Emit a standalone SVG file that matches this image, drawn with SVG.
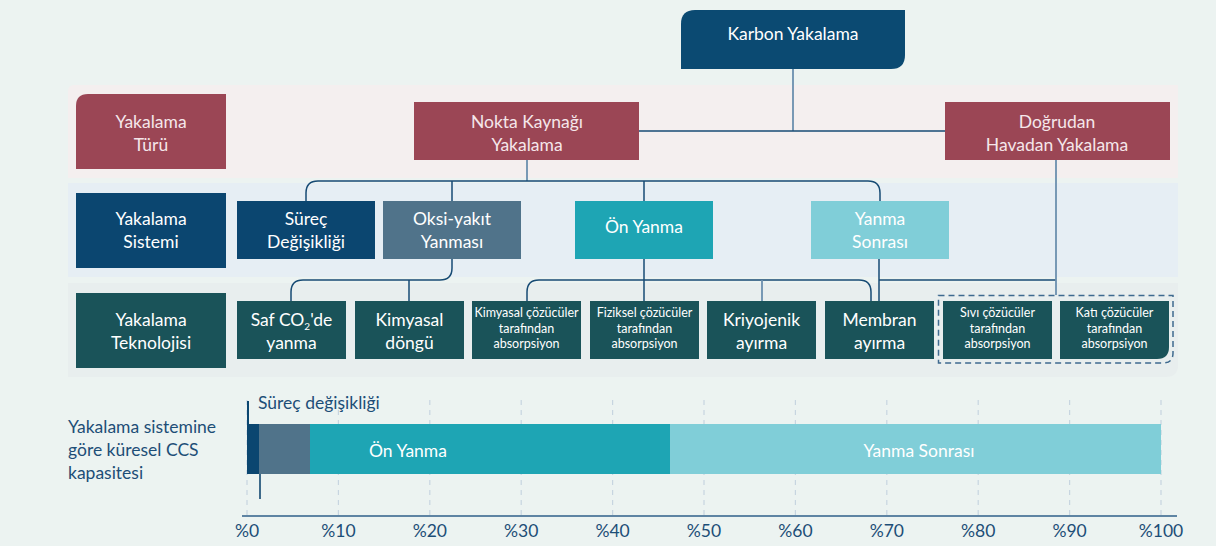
<svg xmlns="http://www.w3.org/2000/svg" width="1216" height="546" viewBox="0 0 1216 546">
<style>
text{font-family:Lato,"Open Sans","Liberation Sans",sans-serif;text-anchor:middle;fill:#ffffff}
.t17{font-size:17.5px}
.t12{font-size:12.5px}
.pk{fill:#F5E6EA}
.cd{fill:none;stroke:#174B74;stroke-width:1.5}
.cl{fill:none;stroke:#6B8FAE;stroke-width:1.8}
.grid{stroke:#C7D5E0;stroke-width:1.2;stroke-dasharray:5 5}
.ax{font-size:17.5px;fill:#1D4E77}
.lbl{font-size:17.5px;fill:#1D4E77;text-anchor:start}
.rose{fill:#9B4655}
.navy{fill:#0B4670}
.slate{fill:#50738A}
.teal{fill:#1EA5B4}
.lteal{fill:#80CED8}
.tech{fill:#1A5359}
</style>
<rect x="0" y="0" width="1216" height="546" fill="#ECF3F1"/>
<g id="bands">
<path d="M74 85 H1178 V178 H68 V91 Q68 85 74 85 Z" fill="#F4EFEF"/>
<rect x="68" y="183" width="1110" height="94" fill="#E6EEF4"/>
<path d="M68 283 H1178 V365 Q1178 377 1166 377 H68 Z" fill="#E8EEEE"/>
</g>
<g id="connectors">
<path class="cl" d="M793 69 V131"/>
<path class="cd" d="M639 131 H945"/>
<path class="cl" d="M527 160 V181"/>
<path class="cd" d="M306 201 V193 Q306 181 318 181 H868 Q880 181 880 193 V201"/>
<path class="cd" d="M452 181 V201 M644 181 V201"/>
<path class="cd" d="M452 259 V268 Q452 280 440 280 H303 Q291 280 291 292 V301"/>
<path class="cd" d="M409 280 V301"/>
<path class="cd" d="M644 259 V301"/>
<path class="cd" d="M527 301 V292 Q527 280 539 280 H859 Q871 280 871 292 V301"/>
<path class="cl" d="M762 280 V301"/>
<path class="cd" d="M879 259 V301 M879 280 H1056"/>
<path class="cl" d="M1056 160 V295"/>
</g>
<g id="karbon">
<path d="M695 10 H905 V55 Q905 69 891 69 H681 V24 Q681 10 695 10 Z" fill="#0B4A72"/>
<text class="t17" x="793" y="40">Karbon Yakalama</text>
</g>
<g id="yakalama-turu">
<path class="rose" d="M88 94 H226 V169 H76 V106 Q76 94 88 94 Z"/>
<text class="t17 pk" x="151" y="128">Yakalama</text>
<text class="t17 pk" x="151" y="151">Türü</text>
</g>
<g id="nokta">
<rect class="rose" x="414" y="102" width="225" height="58"/>
<text class="t17 pk" x="527" y="128">Nokta Kaynağı</text>
<text class="t17 pk" x="527" y="151">Yakalama</text>
</g>
<g id="dogrudan">
<rect class="rose" x="945" y="102" width="225" height="58"/>
<text class="t17 pk" x="1057" y="128">Doğrudan</text>
<text class="t17 pk" x="1057" y="151">Havadan Yakalama</text>
</g>
<g id="yakalama-sistemi">
<rect class="navy" x="76" y="193" width="150" height="75"/>
<text class="t17" x="151" y="225">Yakalama</text>
<text class="t17" x="151" y="248">Sistemi</text>
</g>
<g id="surec">
<rect class="navy" x="237" y="201" width="138" height="58"/>
<text class="t17" x="306" y="225">Süreç</text>
<text class="t17" x="306" y="248">Değişikliği</text>
</g>
<g id="oksi">
<rect class="slate" x="383" y="201" width="138" height="58"/>
<text class="t17" x="452" y="225">Oksi-yakıt</text>
<text class="t17" x="452" y="248">Yanması</text>
</g>
<g id="on-yanma">
<rect class="teal" x="575" y="201" width="138" height="58"/>
<text class="t17" x="644" y="233">Ön Yanma</text>
</g>
<g id="yanma-sonrasi">
<rect class="lteal" x="811" y="201" width="138" height="58"/>
<text class="t17" x="880" y="225">Yanma</text>
<text class="t17" x="880" y="248">Sonrası</text>
</g>
<g id="yakalama-teknolojisi">
<rect class="tech" x="76" y="293" width="150" height="75"/>
<text class="t17" x="151" y="326">Yakalama</text>
<text class="t17" x="151" y="349">Teknolojisi</text>
</g>
<g id="saf">
<rect class="tech" x="237" y="301" width="109" height="58"/>
<text class="t17" x="291.5" y="326">Saf CO<tspan font-size="10" dy="4">2</tspan><tspan dy="-4">'de</tspan></text>
<text class="t17" x="291.5" y="349">yanma</text>
</g>
<g id="kimyasal-dongu">
<rect class="tech" x="355" y="301" width="109" height="58"/>
<text class="t17" x="409.5" y="326">Kimyasal</text>
<text class="t17" x="409.5" y="349">döngü</text>
</g>
<g id="kimyasal-cozucu">
<rect class="tech" x="472" y="301" width="109" height="58"/>
<text class="t12" x="526.5" y="317">Kimyasal çözücüler</text>
<text class="t12" x="526.5" y="333">tarafından</text>
<text class="t12" x="526.5" y="348">absorpsiyon</text>
</g>
<g id="fiziksel">
<rect class="tech" x="590" y="301" width="109" height="58"/>
<text class="t12" x="644.5" y="317">Fiziksel çözücüler</text>
<text class="t12" x="644.5" y="333">tarafından</text>
<text class="t12" x="644.5" y="348">absorpsiyon</text>
</g>
<g id="kriyojenik">
<rect class="tech" x="707" y="301" width="109" height="58"/>
<text class="t17" x="761.5" y="326">Kriyojenik</text>
<text class="t17" x="761.5" y="349">ayırma</text>
</g>
<g id="membran">
<rect class="tech" x="825" y="301" width="109" height="58"/>
<text class="t17" x="879.5" y="326">Membran</text>
<text class="t17" x="879.5" y="349">ayırma</text>
</g>
<g id="sivi">
<rect class="tech" x="943" y="301" width="109" height="58"/>
<text class="t12" x="997.5" y="317">Sıvı çözücüler</text>
<text class="t12" x="997.5" y="333">tarafından</text>
<text class="t12" x="997.5" y="348">absorpsiyon</text>
</g>
<g id="kati">
<path class="tech" d="M1060 301 H1169 V347 Q1169 359 1157 359 H1060 Z"/>
<text class="t12" x="1114.5" y="317">Katı çözücüler</text>
<text class="t12" x="1114.5" y="333">tarafından</text>
<text class="t12" x="1114.5" y="348">absorpsiyon</text>
</g>
<g id="dac-group">
<path d="M938.5 295.5 H1173 V353 Q1173 363 1163 363 H938.5 Z" fill="none" stroke="#3E6A8F" stroke-width="1.5" stroke-dasharray="6 4"/>
</g>
<g id="chart">
<g class="grid">
<line x1="247" y1="400" x2="247" y2="515"/>
<line x1="338.4" y1="400" x2="338.4" y2="515"/>
<line x1="429.8" y1="400" x2="429.8" y2="515"/>
<line x1="521.2" y1="400" x2="521.2" y2="515"/>
<line x1="612.6" y1="400" x2="612.6" y2="515"/>
<line x1="704" y1="400" x2="704" y2="515"/>
<line x1="795.4" y1="400" x2="795.4" y2="515"/>
<line x1="886.8" y1="400" x2="886.8" y2="515"/>
<line x1="978.2" y1="400" x2="978.2" y2="515"/>
<line x1="1069.6" y1="400" x2="1069.6" y2="515"/>
<line x1="1161" y1="400" x2="1161" y2="515"/>
</g>
<rect class="navy" x="247" y="424" width="12" height="50"/>
<rect class="slate" x="259" y="424" width="51" height="50"/>
<rect class="teal" x="310" y="424" width="360" height="50"/>
<rect class="lteal" x="670" y="424" width="491" height="50"/>
<line x1="248" y1="401" x2="248" y2="424" stroke="#0B4670" stroke-width="2"/>
<line x1="260" y1="474" x2="260" y2="499" stroke="#3E6A8A" stroke-width="2"/>
<text class="lbl" x="258" y="409">Süreç değişikliği</text>
<text class="t17" x="408" y="457">Ön Yanma</text>
<text class="t17" x="919" y="457">Yanma Sonrası</text>
<text class="lbl" x="68" y="433">Yakalama sistemine</text>
<text class="lbl" x="68" y="456">göre küresel CCS</text>
<text class="lbl" x="68" y="479">kapasitesi</text>
<line x1="242" y1="516" x2="1177" y2="516" stroke="#5E84A3" stroke-width="2"/>
<text class="ax" x="247" y="537">%0</text>
<text class="ax" x="338.4" y="537">%10</text>
<text class="ax" x="429.8" y="537">%20</text>
<text class="ax" x="521.2" y="537">%30</text>
<text class="ax" x="612.6" y="537">%40</text>
<text class="ax" x="704" y="537">%50</text>
<text class="ax" x="795.4" y="537">%60</text>
<text class="ax" x="886.8" y="537">%70</text>
<text class="ax" x="978.2" y="537">%80</text>
<text class="ax" x="1069.6" y="537">%90</text>
<text class="ax" x="1161" y="537">%100</text>
</g>
</svg>
